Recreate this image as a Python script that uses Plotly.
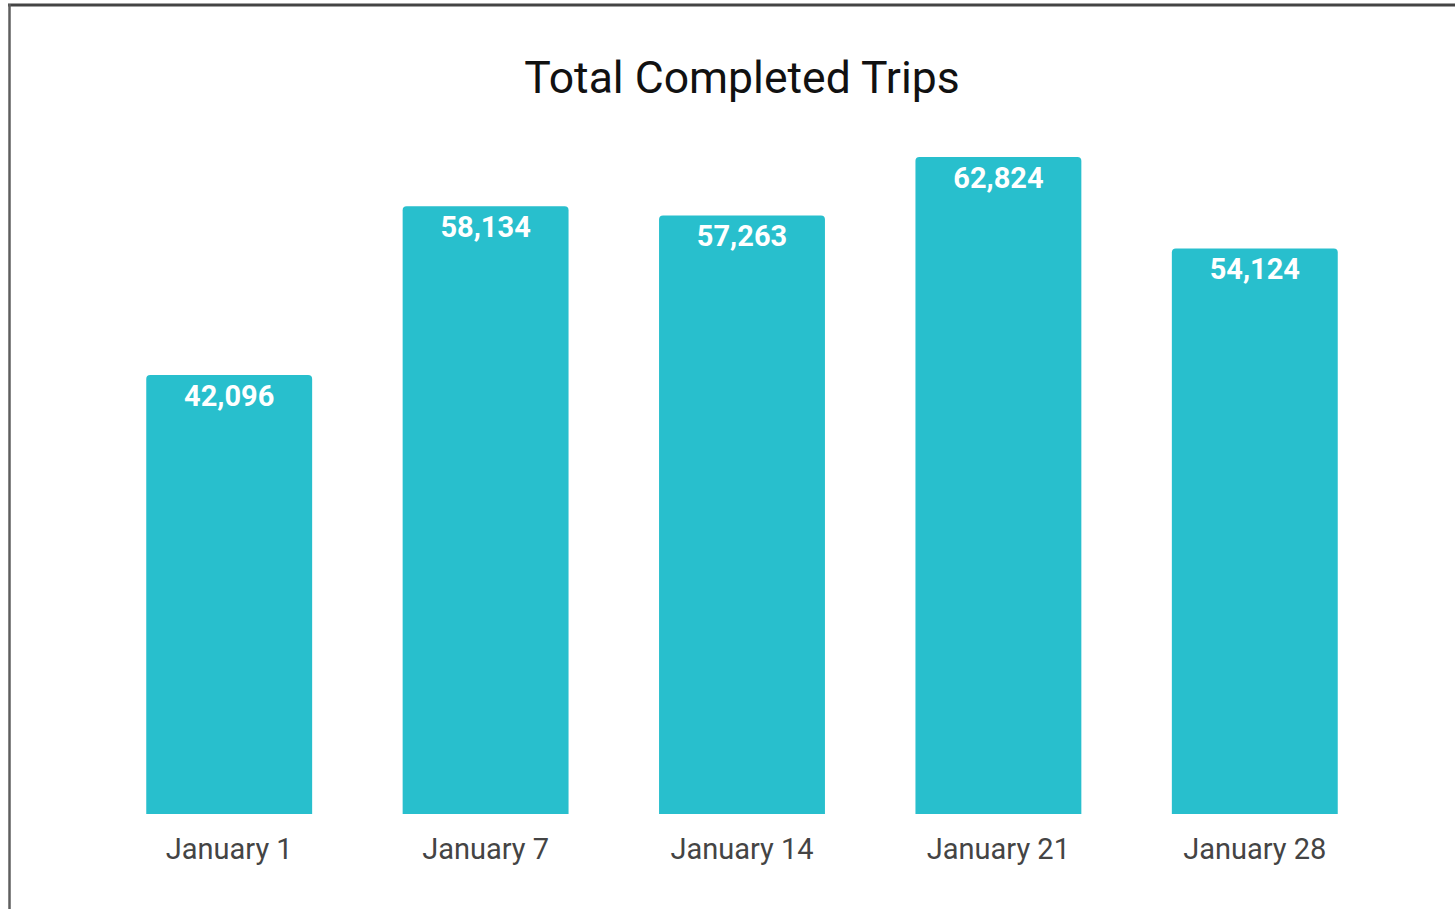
import plotly.graph_objects as go

categories = ["January 1", "January 7", "January 14", "January 21", "January 28"]
trips = [42096, 58134, 57263, 62824, 54124]
labels = [f"{v:,}" for v in trips]

W, H = 1455, 909
ml, mr, mt, mb = 101, 72, 120, 95
pw, ph = W - ml - mr, H - mt - mb

def px_x(p):
    return (p - ml) / pw

def px_y(p):
    return (H - mb - p) / ph

fig = go.Figure(go.Bar(
    x=categories, y=trips, text=labels,
    textposition="inside", insidetextanchor="end", textangle=0,
    constraintext="none",
    insidetextfont=dict(family="Roboto", size=29, color="white", weight="bold"),
    marker=dict(color="#28bfcd", cornerradius=4, line=dict(width=0)),
    hoverinfo="skip",
))

fig.update_layout(
    width=W, height=H,
    margin=dict(l=ml, r=mr, t=mt, b=mb),
    paper_bgcolor="white", plot_bgcolor="white",
    bargap=0.353,
    showlegend=False,
    font=dict(family="Roboto"),
    title=dict(text="Total Completed Trips", x=0.5, xanchor="center", xref="paper",
               y=1 - 77 / H, yanchor="middle", yref="container",
               font=dict(family="Roboto", size=44.5, color="#111111")),
    xaxis=dict(showline=False, showgrid=False, zeroline=False, ticks="",
               ticklabelstandoff=15,
               tickfont=dict(family="Roboto", size=29, color="#444444")),
    yaxis=dict(visible=False, range=[352, 66340], showgrid=False, zeroline=False),
    shapes=[
        dict(type="line", xref="paper", yref="paper", x0=px_x(8), x1=px_x(W + 5),
             y0=px_y(5), y1=px_y(5), line=dict(color="#444444", width=3), layer="above"),
        dict(type="line", xref="paper", yref="paper", x0=px_x(9.5), x1=px_x(9.5),
             y0=px_y(4), y1=px_y(H + 5), line=dict(color="#5f5f5f", width=2.5), layer="above"),
    ],
)

fig.write_html("out.html", config={"displayModeBar": False},
               post_script="document.body.style.margin='0';")
